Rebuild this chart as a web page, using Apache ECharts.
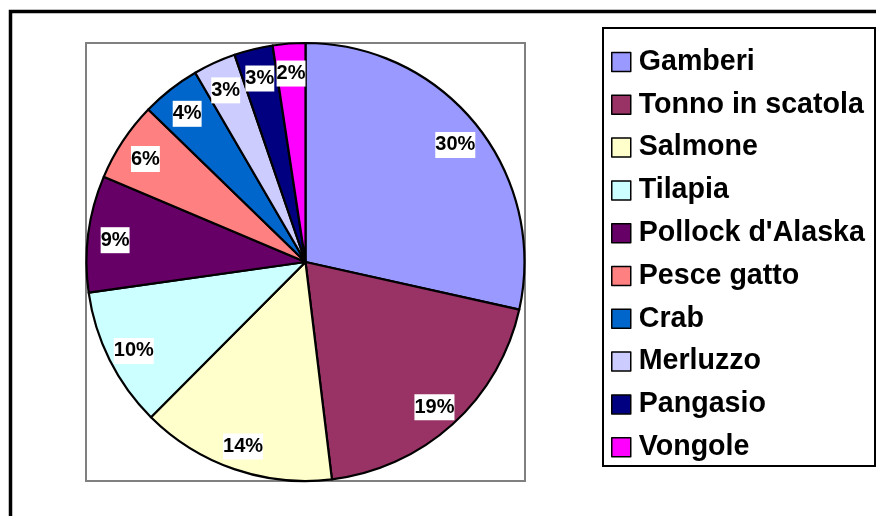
<!DOCTYPE html>
<html>
<head>
<meta charset="utf-8">
<script src="https://cdn.jsdelivr.net/npm/echarts@6/dist/echarts.min.js"></script>
<style>
html,body{margin:0;padding:0;background:#fff;}
#chart{width:876px;height:516px;}
</style>
</head>
<body>
<div id="chart"></div>
<script>
var categories = ["Gamberi","Tonno in scatola","Salmone","Tilapia","Pollock d'Alaska","Pesce gatto","Crab","Merluzzo","Pangasio","Vongole"];
var values = [28.5, 19.6, 14.4, 10.3, 8.6, 5.9, 4.35, 3.15, 2.85, 2.4];
var percentLabels = ["30%","19%","14%","10%","9%","6%","4%","3%","3%","2%"];
var colors = ["#9999FF","#993366","#FFFFCC","#CCFFFF","#660066","#FF8080","#0066CC","#CCCCFF","#000080","#FF00FF"];

var FONT = "'Liberation Sans', Arial, sans-serif";
var chart = echarts.init(document.getElementById('chart'), null, {renderer:'canvas'});

var mainData = categories.map(function(n,i){
  return {name:n, value:values[i], itemStyle:{color:colors[i]}};
});
var labelData = categories.map(function(n,i){
  return {name:n, value:values[i]};
});

chart.setOption({
  backgroundColor:'#ffffff',
  animation:false,
  graphic:[
    {type:'rect', z:0, shape:{x:10.5, y:11.5, width:1000, height:1000}, style:{fill:'none', stroke:'#000', lineWidth:3.5}},
    {type:'rect', z:0, shape:{x:86, y:43, width:439, height:438}, style:{fill:'none', stroke:'#808080', lineWidth:2}},
    {type:'rect', z:0, shape:{x:603, y:28, width:272, height:438}, style:{fill:'#fff', stroke:'#000', lineWidth:2}}
  ],
  legend:{
    orient:'vertical',
    left:611, top:46,
    padding:0,
    itemWidth:19, itemHeight:19,
    itemGap:10.8,
    icon:'rect',
    data:categories,
    itemStyle:{borderColor:'#000', borderWidth:1.5},
    textStyle:{fontFamily:FONT, fontSize:28.6, fontWeight:'bold', color:'#000', lineHeight:32, padding:[0,0,0,3]},
    selectedMode:false
  },
  series:[
    {
      type:'pie',
      center:[305.5,262],
      radius:[0,219],
      startAngle:90,
      clockwise:true,
      silent:true,
      label:{show:false},
      labelLine:{show:false},
      itemStyle:{borderColor:'#000', borderWidth:2.2},
      emphasis:{disabled:true},
      data:mainData
    },
    {
      type:'pie',
      center:[305.5,262],
      radius:[159,219],
      startAngle:90,
      clockwise:true,
      silent:true,
      avoidLabelOverlap:false,
      itemStyle:{color:'rgba(0,0,0,0)', borderWidth:0},
      emphasis:{disabled:true},
      labelLine:{show:false},
      label:{
        show:true,
        position:'inside',
        offset:[0,3],
        formatter:function(p){return percentLabels[p.dataIndex];},
        fontFamily:FONT, fontSize:20, fontWeight:'bold', color:'#000',
        backgroundColor:'#fff',
        lineHeight:21,
        padding:[3,0,2,0]
      },
      data:labelData
    }
  ]
});
</script>
</body>
</html>
